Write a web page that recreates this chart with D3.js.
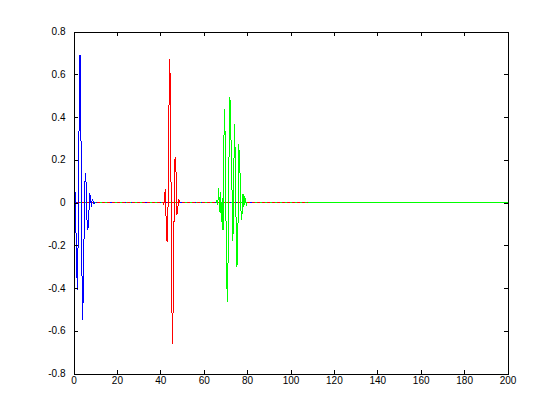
<!DOCTYPE html>
<html>
<head>
<meta charset="utf-8">
<script src="https://cdn.jsdelivr.net/npm/d3@7/dist/d3.min.js"></script>
<style>
  body { margin: 0; background: #fff; }
  .tick text { font-family: "Liberation Sans", Arial, sans-serif; font-size: 10px; fill: #000; }
</style>
</head>
<body>
<div id="chart"></div>
<script>
// tick labels
const xTicks = [0, 20, 40, 60, 80, 100, 120, 140, 160, 180, 200];
const yTicks = [-0.8, -0.6, -0.4, -0.2, 0, 0.2, 0.4, 0.6, 0.8];

// sample spacing of the three traces (x units)
const sampleStep = 0.4;

// blue trace: burst near the origin
const blueStart = 0.6;
const blueValues = [0.08, -0.045, -0.29, -0.41, -0.13, 0.415, 0.69, 0.38, -0.25, -0.55,
  -0.38, -0.04, 0.14, 0.09, -0.08, -0.13, -0.08, 0.045, 0.03, -0.02, 0.015, 0.005, -0.005, 0];
const blueSpan = [0.6, 87];

// red trace: burst around x = 44
const redStart = 41.2;
const redValues = [0, -0.01, 0.04, 0.064, -0.155, -0.186, 0, 0.446, 0.672, 0.337, -0.373,
  -0.66, -0.443, 0, 0.212, 0.165, -0.06, -0.04, 0.015, 0.005, 0];
const redSpan = [0, 108];

// green trace: burst around x = 72
const greenStart = 65.7;
const greenValues = [0, 0.01, -0.01, 0.07, -0.045, 0.05, -0.09, 0.02, -0.13, 0.29, 0.438,
  0.1, -0.31, -0.466, -0.225, 0.25, 0.493, 0.32, 0.2, -0.178, -0.115, 0.368, 0.235, -0.08,
  -0.3, -0.24, 0.275, 0.21, 0.087, -0.084, -0.05, 0.04, -0.02, 0.03, 0.01, -0.01, 0];
const greenSpan = [0, 200];

const svgWidth = 560;
const svgHeight = 419;

const svg = d3.select("#chart")
  .append("svg")
  .attr("width", svgWidth)
  .attr("height", svgHeight);

const x = d3.scaleLinear().domain([0, 200]).range([73.5, 507.5]);
const y = d3.scaleLinear().domain([-0.8, 0.8]).range([373.5, 31.5]);

// turn a burst into [x, value] points
function burst(start, values) {
  return values.map((v, i) => [start + i * sampleStep, v]);
}

const line = d3.line()
  .x(d => x(d[0]))
  .y(d => y(d[1]));

const plot = svg.append("g");

// zero baselines, drawn first so the bursts sit on top
plot.append("path")
  .datum(greenSpan.map(v => [v, 0]))
  .attr("d", line)
  .attr("fill", "none")
  .attr("stroke", "#00ff00")
  .attr("shape-rendering", "crispEdges");

plot.append("path")
  .datum(blueSpan.map(v => [v, 0]))
  .attr("d", line)
  .attr("fill", "none")
  .attr("stroke", "#0000ff")
  .attr("stroke-dasharray", "2,5")
  .attr("shape-rendering", "crispEdges");

plot.append("path")
  .datum(redSpan.map(v => [v, 0]))
  .attr("d", line)
  .attr("fill", "none")
  .attr("stroke", "#ff0000")
  .attr("stroke-dasharray", "3,2")
  .attr("stroke-dashoffset", 2)
  .attr("shape-rendering", "crispEdges");

// bursts
const traces = [
  { color: "#0000ff", pts: burst(blueStart, blueValues) },
  { color: "#ff0000", pts: burst(redStart, redValues) },
  { color: "#00ff00", pts: burst(greenStart, greenValues) }
];

traces.forEach(t => {
  plot.append("path")
    .datum(t.pts)
    .attr("d", line)
    .attr("fill", "none")
    .attr("stroke", t.color)
    .attr("stroke-width", 1)
    .attr("shape-rendering", "crispEdges");
});

// axes, ticks pointing inward on all four sides
const fmt = d => (d === 0 ? "0" : d.toFixed(1));

const bottomAxis = svg.append("g")
  .attr("transform", `translate(0, ${y(-0.8)})`)
  .call(d3.axisBottom(x).tickValues(xTicks).tickSize(-4).tickPadding(3).tickFormat(d3.format("d")));

const topAxis = svg.append("g")
  .attr("transform", `translate(0, ${y(0.8)})`)
  .call(d3.axisTop(x).tickValues(xTicks).tickSize(-4).tickFormat(""));

const leftAxis = svg.append("g")
  .attr("transform", `translate(${x(0)}, 0)`)
  .call(d3.axisLeft(y).tickValues(yTicks).tickSize(-4).tickPadding(8).tickFormat(fmt));

const rightAxis = svg.append("g")
  .attr("transform", `translate(${x(200)}, 0)`)
  .call(d3.axisRight(y).tickValues(yTicks).tickSize(-4).tickFormat(""));

[bottomAxis, topAxis, leftAxis, rightAxis].forEach(a => {
  a.selectAll(".domain")
    .attr("stroke", "#000")
    .attr("shape-rendering", "crispEdges");
  a.selectAll(".tick line")
    .attr("stroke", "#000")
    .attr("shape-rendering", "crispEdges");
});
</script>
</body>
</html>
